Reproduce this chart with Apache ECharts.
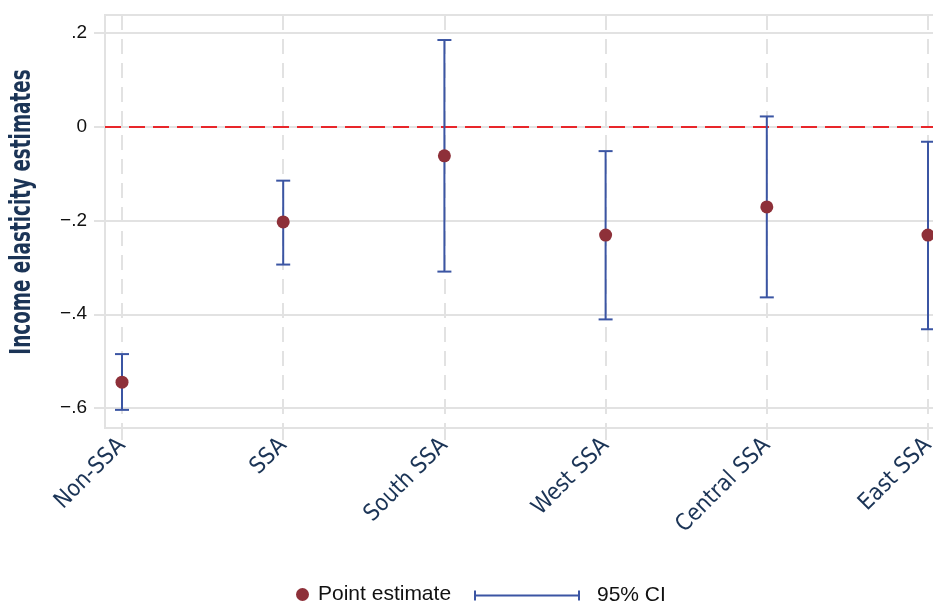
<!DOCTYPE html>
<html>
<head>
<meta charset="utf-8">
<script src="https://cdn.jsdelivr.net/npm/echarts@6/dist/echarts.min.js"></script>
<style>
html,body{margin:0;padding:0;background:#fff;overflow:hidden;}
#chart{width:933px;height:603px;}
</style>
</head>
<body>
<div id="chart"></div>
<script>
// ---- data ----
var categories = ['Non-SSA', 'SSA', 'South SSA', 'West SSA', 'Central SSA', 'East SSA'];
var pointEstimates = [-0.545, -0.203, -0.062, -0.231, -0.171, -0.231];
var ciLower = [-0.604, -0.294, -0.309, -0.411, -0.364, -0.432];
var ciUpper = [-0.485, -0.115, 0.185, -0.052, 0.022, -0.032];
var yTickValues = [-0.6, -0.4, -0.2, 0, 0.2];
var yTickLabels = ['\u2212.6', '\u2212.4', '\u2212.2', '0', '.2'];

var NAVY = '#1b3456';
var GRID = '#e2e2e2';
var BLUE = '#3b55a3';
var MAROON = '#8e3039';
var RED = '#e8262a';
var NARROW = "'Liberation Sans Narrow', 'DejaVu Sans Condensed', sans-serif";
var SANS = "'Liberation Sans', Arial, sans-serif";

var ciData = categories.map(function (c, i) { return [i, ciLower[i], ciUpper[i]]; });
var ptData = categories.map(function (c, i) { return [i, pointEstimates[i]]; });

var chart = echarts.init(document.getElementById('chart'), null, {renderer: 'canvas'});

var option = {
  animation: false,
  backgroundColor: '#ffffff',
  grid: [
    // frame
    {left: 105, right: -12, top: 15, bottom: 175, show: true, borderColor: GRID, borderWidth: 2, backgroundColor: 'transparent', containLabel: false, outerBoundsMode: 'none'},
    // category axis (full height)
    {left: 122, right: 5, top: 15, bottom: 175, containLabel: false, outerBoundsMode: 'none'},
    // value axis (full width)
    {left: 105, right: -12, top: 33, bottom: 195, containLabel: false, outerBoundsMode: 'none'},
    // data
    {left: 122, right: 5, top: 33, bottom: 195, containLabel: false, outerBoundsMode: 'none'}
  ],
  xAxis: [
    {gridIndex: 0, type: 'value', min: 0, max: 1, show: false},
    {gridIndex: 1, type: 'category', data: categories, boundaryGap: false,
      axisLine: {show: false},
      axisTick: {show: true, length: 12, lineStyle: {color: GRID, width: 2}},
      axisLabel: {rotate: 45, margin: 14, color: NAVY, fontSize: 23, fontFamily: NARROW, interval: 0},
      splitLine: {show: true, lineStyle: {color: GRID, width: 2, type: [15, 9]}}
    },
    {gridIndex: 2, type: 'value', min: 0, max: 1, show: false},
    {gridIndex: 3, type: 'category', data: categories, boundaryGap: false, show: false}
  ],
  yAxis: [
    {gridIndex: 0, type: 'value', min: 0, max: 1, show: false},
    {gridIndex: 1, type: 'value', min: 0, max: 1, show: false},
    {gridIndex: 2, type: 'value', min: yTickValues[0], max: yTickValues[yTickValues.length - 1], interval: 0.2,
      axisLine: {show: false},
      axisTick: {show: true, length: 11, lineStyle: {color: GRID, width: 2}},
      axisLabel: {margin: 18, color: '#111111', fontSize: 19, fontFamily: SANS,
        formatter: function (v, idx) { return yTickLabels[idx]; }},
      splitLine: {show: true, lineStyle: {color: GRID, width: 2}}
    },
    {gridIndex: 3, type: 'value', min: yTickValues[0], max: yTickValues[yTickValues.length - 1], show: false}
  ],
  legend: [
    {data: [{name: 'Point estimate', icon: 'circle'}], left: 291, top: 579, padding: 5, itemWidth: 21, itemHeight: 13,
      textStyle: {fontSize: 21, color: '#111111', fontFamily: SANS}, selectedMode: false},
    {data: [{name: '95% CI', icon: 'path://M0,0h2v10h-2z M0,4h106v2h-106z M104,0h2v10h-2z'}], left: 469, top: 580, padding: 5,
      itemWidth: 106, itemHeight: 10,
      textStyle: {fontSize: 21, color: '#111111', fontFamily: SANS, padding: [0, 0, 0, 12]}, selectedMode: false}
  ],
  graphic: [
    {type: 'text', z: 10,
      x: 23, y: 212, rotation: Math.PI / 2, scaleX: 0.73, scaleY: 1,
      style: {text: 'Income elasticity estimates', fill: NAVY, font: "bold 28px 'Liberation Sans Narrow', 'DejaVu Sans Condensed', sans-serif", align: 'center', verticalAlign: 'middle'}}
  ],
  series: [
    {
      name: 'zero line', type: 'line', xAxisIndex: 2, yAxisIndex: 2, data: [], silent: true, z: 3,
      markLine: {silent: true, symbol: 'none', label: {show: false},
        lineStyle: {color: RED, width: 2, type: [16, 8]}, data: [{yAxis: 0}]}
    },
    {
      name: '95% CI', type: 'custom', xAxisIndex: 3, yAxisIndex: 3, z: 5,
      itemStyle: {color: BLUE},
      encode: {x: 0, y: [1, 2]},
      data: ciData,
      renderItem: function (params, api) {
        var x = api.value(0);
        var lo = api.coord([x, api.value(1)]);
        var hi = api.coord([x, api.value(2)]);
        var hw = 7;
        var st = {stroke: BLUE, lineWidth: 2};
        return {type: 'group', children: [
          {type: 'line', shape: {x1: lo[0], y1: lo[1], x2: hi[0], y2: hi[1]}, style: st},
          {type: 'line', shape: {x1: lo[0] - hw, y1: lo[1], x2: lo[0] + hw, y2: lo[1]}, style: st},
          {type: 'line', shape: {x1: hi[0] - hw, y1: hi[1], x2: hi[0] + hw, y2: hi[1]}, style: st}
        ]};
      }
    },
    {
      name: 'Point estimate', type: 'scatter', xAxisIndex: 3, yAxisIndex: 3, z: 6,
      symbol: 'circle', symbolSize: 13, itemStyle: {color: MAROON, opacity: 1},
      data: ptData
    }
  ]
};
chart.setOption(option);
</script>
</body>
</html>
